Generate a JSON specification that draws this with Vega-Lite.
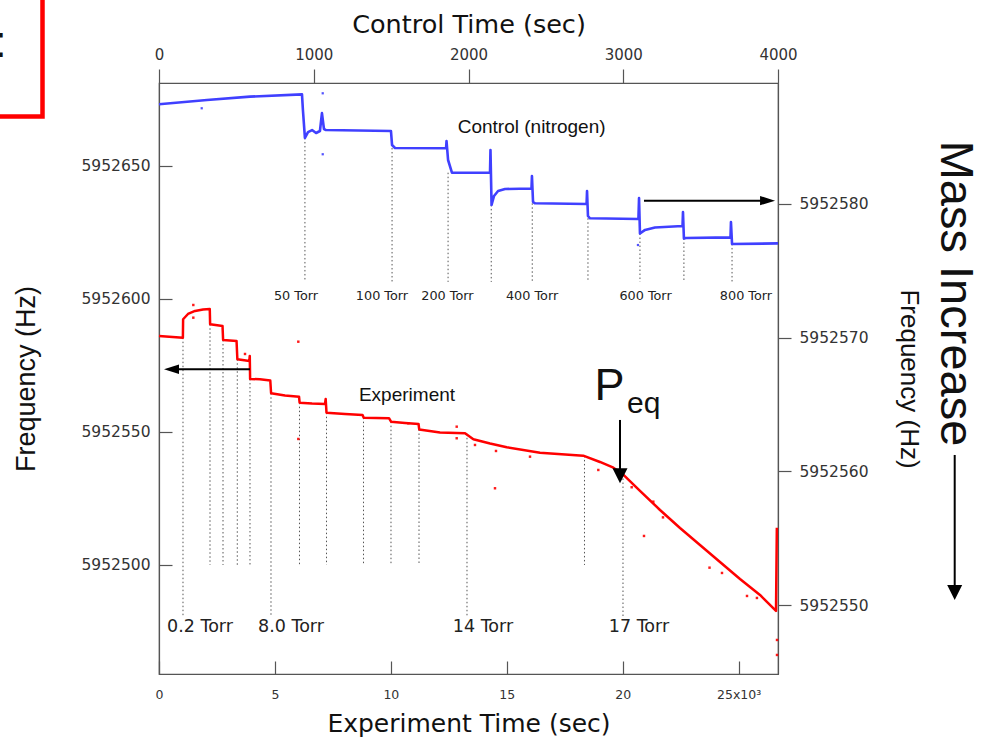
{
  "$schema": "https://vega.github.io/schema/vega-lite/v6.json",
  "width": 619,
  "height": 591,
  "autosize": {"type": "none"},
  "padding": {"left": 159, "top": 83, "right": 208, "bottom": 63},
  "background": "#ffffff",
  "config": {
    "view": {"stroke": "#555555", "strokeWidth": 1.2},
    "axis": {
      "grid": false,
      "domainColor": "#555555",
      "domainWidth": 1.2,
      "tickColor": "#555555",
      "tickWidth": 1.2,
      "labelColor": "#333333",
      "titleColor": "#111111",
      "titleFontWeight": "normal",
      "labelFlush": false,
      "labelOverlap": false,
      "labelBound": false
    },
    "text": {"color": "#111111"}
  },
  "datasets": {
    "experiment": [
      {"t": 0, "hz": 5952586.09}, {"t": 1030, "hz": 5952585.45}, {"t": 1040, "hz": 5952592.37},
      {"t": 1250, "hz": 5952594.36}, {"t": 1555, "hz": 5952595.49}, {"t": 1900, "hz": 5952596.05},
      {"t": 2190, "hz": 5952596.24}, {"t": 2205, "hz": 5952590.49}, {"t": 2740, "hz": 5952589.85},
      {"t": 2765, "hz": 5952584.58}, {"t": 3345, "hz": 5952584.21}, {"t": 3380, "hz": 5952577.33},
      {"t": 3895, "hz": 5952576.69}, {"t": 3915, "hz": 5952578.57}, {"t": 3930, "hz": 5952569.92},
      {"t": 4355, "hz": 5952569.81}, {"t": 4800, "hz": 5952569.36}, {"t": 4835, "hz": 5952564.55},
      {"t": 5435, "hz": 5952563.72}, {"t": 6040, "hz": 5952563.27}, {"t": 6065, "hz": 5952561.01},
      {"t": 6600, "hz": 5952560.71}, {"t": 7160, "hz": 5952560.52}, {"t": 7190, "hz": 5952562.4},
      {"t": 7225, "hz": 5952557.25}, {"t": 8025, "hz": 5952556.76}, {"t": 8780, "hz": 5952556.39},
      {"t": 8830, "hz": 5952555.37}, {"t": 9920, "hz": 5952555.2}, {"t": 10010, "hz": 5952553.87},
      {"t": 10610, "hz": 5952553.38}, {"t": 11195, "hz": 5952553.0}, {"t": 11225, "hz": 5952550.94},
      {"t": 12120, "hz": 5952549.81}, {"t": 13200, "hz": 5952549.51}, {"t": 13560, "hz": 5952547.25},
      {"t": 14280, "hz": 5952545.67}, {"t": 15000, "hz": 5952544.25}, {"t": 16435, "hz": 5952542.22},
      {"t": 18300, "hz": 5952541.09}, {"t": 19020, "hz": 5952538.72}, {"t": 19600, "hz": 5952536.58},
      {"t": 20014, "hz": 5952534.09}, {"t": 20747, "hz": 5952527.82}, {"t": 21610, "hz": 5952520.67},
      {"t": 22473, "hz": 5952513.91}, {"t": 23335, "hz": 5952507.52}, {"t": 24198, "hz": 5952501.12},
      {"t": 25061, "hz": 5952494.73}, {"t": 25924, "hz": 5952488.72}, {"t": 26614, "hz": 5952482.7},
      {"t": 26650, "hz": 5952514.0}
    ],
    "expDots": [
      {"t": 1480, "hz": 5952597.74}, {"t": 1480, "hz": 5952592.97}, {"t": 3710, "hz": 5952579.32},
      {"t": 6009, "hz": 5952583.94}, {"t": 6009, "hz": 5952547.37}, {"t": 10753, "hz": 5952553.27},
      {"t": 12841, "hz": 5952551.99}, {"t": 12841, "hz": 5952547.63}, {"t": 13630, "hz": 5952545.11},
      {"t": 14536, "hz": 5952542.85}, {"t": 16003, "hz": 5952540.71}, {"t": 14493, "hz": 5952528.83},
      {"t": 18949, "hz": 5952535.71}, {"t": 20389, "hz": 5952529.21}, {"t": 21321, "hz": 5952523.79},
      {"t": 20920, "hz": 5952510.9}, {"t": 21739, "hz": 5952517.89}, {"t": 23746, "hz": 5952498.98},
      {"t": 24284, "hz": 5952496.99}, {"t": 25363, "hz": 5952488.34}, {"t": 25791, "hz": 5952487.59},
      {"t": 26657, "hz": 5952471.8}, {"t": 26657, "hz": 5952466.16}
    ],
    "expRules": [
      {"t": 1035, "top": 5952585.45, "bot": 5952480.8},
      {"t": 2200, "top": 5952590.49, "bot": 5952500},
      {"t": 2761, "top": 5952584.58, "bot": 5952500},
      {"t": 3377, "top": 5952577.33, "bot": 5952500},
      {"t": 3925, "top": 5952569.92, "bot": 5952500},
      {"t": 4831, "top": 5952564.55, "bot": 5952480.8},
      {"t": 6060, "top": 5952561.01, "bot": 5952500},
      {"t": 7225, "top": 5952557.25, "bot": 5952500},
      {"t": 8821, "top": 5952555.37, "bot": 5952500},
      {"t": 10007, "top": 5952553.87, "bot": 5952500},
      {"t": 11215, "top": 5952550.94, "bot": 5952500},
      {"t": 13285, "top": 5952549.3, "bot": 5952480.8},
      {"t": 18353, "top": 5952541.0, "bot": 5952500},
      {"t": 20014, "top": 5952534.0, "bot": 5952480.8}
    ],
    "expTorr": [
      {"t": 1768, "hz": 5952476.69, "label": "0.2 Torr"},
      {"t": 5694, "hz": 5952476.69, "label": "8.0 Torr"},
      {"t": 13975, "hz": 5952476.69, "label": "14 Torr"},
      {"t": 20704, "hz": 5952476.69, "label": "17 Torr"}
    ],
    "control": [
      {"t": 0, "hz": 5952587.46}, {"t": 310, "hz": 5952587.78}, {"t": 588, "hz": 5952588.03},
      {"t": 924, "hz": 5952588.2}, {"t": 930, "hz": 5952587.03}, {"t": 943, "hz": 5952584.94},
      {"t": 963, "hz": 5952585.38}, {"t": 989, "hz": 5952585.53}, {"t": 1015, "hz": 5952585.31},
      {"t": 1040, "hz": 5952585.46}, {"t": 1053, "hz": 5952586.8}, {"t": 1066, "hz": 5952585.61},
      {"t": 1079, "hz": 5952585.53}, {"t": 1499, "hz": 5952585.46}, {"t": 1506, "hz": 5952584.41},
      {"t": 1525, "hz": 5952584.19}, {"t": 1855, "hz": 5952584.17}, {"t": 1858, "hz": 5952584.71},
      {"t": 1868, "hz": 5952583.29}, {"t": 1893, "hz": 5952582.34}, {"t": 2139, "hz": 5952582.34},
      {"t": 2142, "hz": 5952584.04}, {"t": 2149, "hz": 5952579.93}, {"t": 2165, "hz": 5952580.6},
      {"t": 2191, "hz": 5952580.97}, {"t": 2236, "hz": 5952581.12}, {"t": 2407, "hz": 5952581.16},
      {"t": 2410, "hz": 5952582.09}, {"t": 2417, "hz": 5952580.15}, {"t": 2430, "hz": 5952580.05},
      {"t": 2763, "hz": 5952580.0}, {"t": 2766, "hz": 5952580.97}, {"t": 2772, "hz": 5952579.1},
      {"t": 2785, "hz": 5952578.93}, {"t": 3098, "hz": 5952578.88}, {"t": 3102, "hz": 5952580.45},
      {"t": 3108, "hz": 5952577.79}, {"t": 3141, "hz": 5952578.06}, {"t": 3205, "hz": 5952578.24},
      {"t": 3383, "hz": 5952578.35}, {"t": 3386, "hz": 5952579.4}, {"t": 3392, "hz": 5952577.42},
      {"t": 3405, "hz": 5952577.46}, {"t": 3693, "hz": 5952577.5}, {"t": 3696, "hz": 5952578.65},
      {"t": 3703, "hz": 5952577.01}, {"t": 4000, "hz": 5952577.05}
    ],
    "ctlDots": [
      {"t": 1058, "hz": 5952588.28}, {"t": 1058, "hz": 5952583.72},
      {"t": 276, "hz": 5952587.16}, {"t": 3095, "hz": 5952576.93}
    ],
    "ctlRules": [
      {"t": 943, "top": 5952584.94, "bot": 5952574.17},
      {"t": 1506, "top": 5952584.19, "bot": 5952574.17},
      {"t": 1868, "top": 5952582.34, "bot": 5952574.17},
      {"t": 2147, "top": 5952579.93, "bot": 5952574.17},
      {"t": 2412, "top": 5952580.05, "bot": 5952574.17},
      {"t": 2772, "top": 5952578.93, "bot": 5952574.17},
      {"t": 3108, "top": 5952577.79, "bot": 5952574.17},
      {"t": 3392, "top": 5952577.42, "bot": 5952574.17},
      {"t": 3703, "top": 5952577.01, "bot": 5952574.17}
    ],
    "ctlTorr": [
      {"t": 885, "hz": 5952573.12, "label": "50 Torr"},
      {"t": 1441, "hz": 5952573.12, "label": "100 Torr"},
      {"t": 1864, "hz": 5952573.12, "label": "200 Torr"},
      {"t": 2411, "hz": 5952573.12, "label": "400 Torr"},
      {"t": 3144, "hz": 5952573.12, "label": "600 Torr"},
      {"t": 3793, "hz": 5952573.12, "label": "800 Torr"}
    ]
  },
  "layer": [
    {
      "layer": [
        {
          "data": {"name": "expRules"},
          "mark": {"type": "rule", "color": "#555555", "strokeWidth": 1, "strokeDash": [1.5, 2.5]},
          "encoding": {
            "x": {
              "field": "t", "type": "quantitative",
              "scale": {"domain": [0, 26700], "nice": false, "zero": false},
              "axis": {
                "orient": "bottom", "title": "Experiment Time (sec)",
                "values": [0, 5000, 10000, 15000, 20000, 25000],
                "labelExpr": "datum.value === 25000 ? '25x10³' : format(datum.value / 1000, 'd')",
                "tickSize": -13, "labelPadding": 27,
                "labelFont": "DejaVu Sans", "labelFontSize": 12.5,
                "titleFont": "DejaVu Sans", "titleFontSize": 25, "titlePadding": 11
              }
            },
            "y": {
              "field": "top", "type": "quantitative",
              "scale": {"domain": [5952459, 5952681.2], "nice": false, "zero": false},
              "axis": {
                "orient": "left", "title": "Frequency (Hz)",
                "values": [5952500, 5952550, 5952600, 5952650], "format": "d",
                "tickSize": -13, "labelPadding": 22,
                "labelFont": "DejaVu Sans", "labelFontSize": 15.5,
                "titleFont": "Liberation Sans", "titleFontSize": 27, "titlePadding": 40
              }
            },
            "y2": {"field": "bot"}
          }
        },
        {
          "data": {"name": "experiment"},
          "mark": {"type": "line", "color": "#ff0000", "strokeWidth": 2.5, "strokeJoin": "round"},
          "encoding": {
            "x": {"field": "t", "type": "quantitative"},
            "y": {"field": "hz", "type": "quantitative"}
          }
        },
        {
          "data": {"name": "expDots"},
          "mark": {"type": "square", "color": "#ff0000", "size": 6, "opacity": 0.9},
          "encoding": {
            "x": {"field": "t", "type": "quantitative"},
            "y": {"field": "hz", "type": "quantitative"}
          }
        },
        {
          "data": {"name": "expTorr"},
          "mark": {"type": "text", "font": "DejaVu Sans", "fontSize": 17.5, "align": "center", "baseline": "middle", "color": "#222222"},
          "encoding": {
            "x": {"field": "t", "type": "quantitative"},
            "y": {"field": "hz", "type": "quantitative"},
            "text": {"field": "label"}
          }
        },
        {
          "data": {"values": [{"t": 10697, "hz": 5952563.91, "label": "Experiment"}]},
          "mark": {"type": "text", "font": "Liberation Sans", "fontSize": 19, "align": "center", "baseline": "middle"},
          "encoding": {
            "x": {"field": "t", "type": "quantitative"},
            "y": {"field": "hz", "type": "quantitative"},
            "text": {"field": "label"}
          }
        },
        {
          "data": {"values": [{"t": 690, "t2": 3925, "hz": 5952573.57}]},
          "mark": {"type": "rule", "color": "#000000", "strokeWidth": 2},
          "encoding": {
            "x": {"field": "t", "type": "quantitative"},
            "x2": {"field": "t2"},
            "y": {"field": "hz", "type": "quantitative"}
          }
        },
        {
          "data": {"values": [{"t": 216, "hz": 5952573.57}]},
          "mark": {"type": "point", "shape": "M2,-0.62L0,0L2,0.62Z", "size": 225, "filled": true, "color": "#000000", "opacity": 1, "strokeWidth": 0},
          "encoding": {
            "x": {"field": "t", "type": "quantitative"},
            "y": {"field": "hz", "type": "quantitative"}
          }
        },
        {
          "data": {"values": [{"t": 19885, "hz": 5952554.51, "hz2": 5952535.71}]},
          "mark": {"type": "rule", "color": "#000000", "strokeWidth": 2},
          "encoding": {
            "x": {"field": "t", "type": "quantitative"},
            "y": {"field": "hz", "type": "quantitative"},
            "y2": {"field": "hz2"}
          }
        },
        {
          "data": {"values": [{"t": 19885, "hz": 5952530.71}, {"t": 34322, "hz": 5952486.84}]},
          "mark": {"type": "point", "shape": "M-1,-2L0,0L1,-2Z", "size": 225, "filled": true, "color": "#000000", "opacity": 1, "strokeWidth": 0},
          "encoding": {
            "x": {"field": "t", "type": "quantitative"},
            "y": {"field": "hz", "type": "quantitative"}
          }
        },
        {
          "data": {"values": [{"t": 18781, "hz": 5952562.03, "label": "P"}]},
          "mark": {"type": "text", "font": "Liberation Sans", "fontSize": 45, "align": "left", "baseline": "alphabetic"},
          "encoding": {
            "x": {"field": "t", "type": "quantitative"},
            "y": {"field": "hz", "type": "quantitative"},
            "text": {"field": "label"}
          }
        },
        {
          "data": {"values": [{"t": 20187, "hz": 5952557.03, "label": "eq"}]},
          "mark": {"type": "text", "font": "Liberation Sans", "fontSize": 30, "align": "left", "baseline": "alphabetic"},
          "encoding": {
            "x": {"field": "t", "type": "quantitative"},
            "y": {"field": "hz", "type": "quantitative"},
            "text": {"field": "label"}
          }
        },
        {
          "data": {"values": [{"t": 34322, "hz": 5952602.06, "label": "Mass Increase"}]},
          "mark": {"type": "text", "font": "Liberation Sans", "fontSize": 47, "angle": 90, "align": "center", "baseline": "middle"},
          "encoding": {
            "x": {"field": "t", "type": "quantitative"},
            "y": {"field": "hz", "type": "quantitative"},
            "text": {"field": "label"}
          }
        },
        {
          "data": {"values": [{"t": 34322, "hz": 5952541.35, "hz2": 5952491.35}]},
          "mark": {"type": "rule", "color": "#000000", "strokeWidth": 2},
          "encoding": {
            "x": {"field": "t", "type": "quantitative"},
            "y": {"field": "hz", "type": "quantitative"},
            "y2": {"field": "hz2"}
          }
        },
        {
          "data": {"values": [{"t": -8200, "t2": -5025, "hz": 5952668.6, "hz2": 5952725}]},
          "mark": {"type": "rect", "filled": false, "color": "#ff0000", "strokeWidth": 4.5},
          "encoding": {
            "x": {"field": "t", "type": "quantitative"},
            "x2": {"field": "t2"},
            "y": {"field": "hz", "type": "quantitative"},
            "y2": {"field": "hz2"}
          }
        },
        {
          "data": {"values": [{"t": -6837, "hz": 5952691.09, "label": ":"}]},
          "mark": {"type": "text", "font": "Liberation Sans", "fontSize": 45, "align": "center", "baseline": "alphabetic"},
          "encoding": {
            "x": {"field": "t", "type": "quantitative"},
            "y": {"field": "hz", "type": "quantitative"},
            "text": {"field": "label"}
          }
        }
      ]
    },
    {
      "layer": [
        {
          "data": {"name": "ctlRules"},
          "mark": {"type": "rule", "color": "#555555", "strokeWidth": 1, "strokeDash": [1.5, 2.5]},
          "encoding": {
            "x": {
              "field": "t", "type": "quantitative",
              "scale": {"domain": [0, 4000], "nice": false, "zero": false},
              "axis": {
                "orient": "top", "title": "Control Time (sec)",
                "values": [0, 1000, 2000, 3000, 4000], "format": "d",
                "tickSize": 14, "labelPadding": 7,
                "labelFont": "DejaVu Sans", "labelFontSize": 15,
                "titleFont": "DejaVu Sans", "titleFontSize": 25.5, "titlePadding": 10
              }
            },
            "y": {
              "field": "top", "type": "quantitative",
              "scale": {"domain": [5952544.84, 5952589.05], "nice": false, "zero": false},
              "axis": {
                "orient": "right", "title": "Frequency (Hz)",
                "values": [5952550, 5952560, 5952570, 5952580], "format": "d",
                "tickSize": 13, "labelPadding": 8,
                "labelFont": "DejaVu Sans", "labelFontSize": 15.5,
                "titleFont": "Liberation Sans", "titleFontSize": 26, "titlePadding": 27
              }
            },
            "y2": {"field": "bot"}
          }
        },
        {
          "data": {"name": "control"},
          "mark": {"type": "line", "color": "#4040ff", "strokeWidth": 2.6, "strokeJoin": "round"},
          "encoding": {
            "x": {"field": "t", "type": "quantitative"},
            "y": {"field": "hz", "type": "quantitative"}
          }
        },
        {
          "data": {"name": "ctlDots"},
          "mark": {"type": "square", "color": "#4040ff", "size": 5, "opacity": 0.9},
          "encoding": {
            "x": {"field": "t", "type": "quantitative"},
            "y": {"field": "hz", "type": "quantitative"}
          }
        },
        {
          "data": {"name": "ctlTorr"},
          "mark": {"type": "text", "font": "DejaVu Sans", "fontSize": 12.8, "align": "center", "baseline": "middle", "color": "#222222"},
          "encoding": {
            "x": {"field": "t", "type": "quantitative"},
            "y": {"field": "hz", "type": "quantitative"},
            "text": {"field": "label"}
          }
        },
        {
          "data": {"values": [{"t": 2408, "hz": 5952585.76, "label": "Control (nitrogen)"}]},
          "mark": {"type": "text", "font": "Liberation Sans", "fontSize": 19, "align": "center", "baseline": "middle"},
          "encoding": {
            "x": {"field": "t", "type": "quantitative"},
            "y": {"field": "hz", "type": "quantitative"},
            "text": {"field": "label"}
          }
        },
        {
          "data": {"values": [{"t": 3134, "t2": 3916, "hz": 5952580.25}]},
          "mark": {"type": "rule", "color": "#000000", "strokeWidth": 2},
          "encoding": {
            "x": {"field": "t", "type": "quantitative"},
            "x2": {"field": "t2"},
            "y": {"field": "hz", "type": "quantitative"}
          }
        },
        {
          "data": {"values": [{"t": 3981, "hz": 5952580.25}]},
          "mark": {"type": "point", "shape": "M-2,-0.62L0,0L-2,0.62Z", "size": 225, "filled": true, "color": "#000000", "opacity": 1, "strokeWidth": 0},
          "encoding": {
            "x": {"field": "t", "type": "quantitative"},
            "y": {"field": "hz", "type": "quantitative"}
          }
        }
      ]
    }
  ],
  "resolve": {"scale": {"x": "independent", "y": "independent"}}
}
